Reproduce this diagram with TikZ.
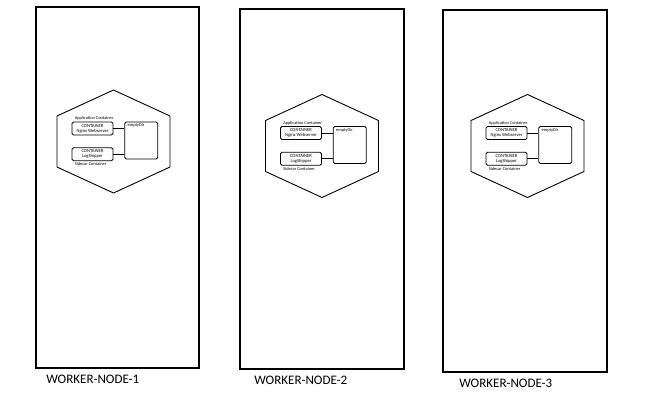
\documentclass[tikz,border=0pt]{standalone}
\usepackage{fontspec}
\setmainfont{Carlito}
\usepackage{tikz}
\usetikzlibrary{positioning}
\tikzstyle{worker} = [rectangle, draw, line width=1.8pt, inner sep=0pt]
\tikzstyle{workerlabel} = [inner sep=0pt, font=\fontsize{13}{14}\selectfont]
\tikzstyle{pod} = [draw, line width=0.9pt, line join=miter]
\tikzstyle{box} = [rectangle, draw, line width=0.8pt, rounded corners=1.5pt,
    align=center, inner sep=0pt, font=\fontsize{4.6}{5}\selectfont]
\tikzstyle{tinytext} = [inner sep=0pt, font=\fontsize{4.4}{5}\selectfont]
\tikzstyle{line} = [draw, line width=0.8pt]

\begin{document}
\begin{tikzpicture}[x=1pt, y=-1pt, node distance=10pt]
    \useasboundingbox (0,0) rectangle (659,406);
    % Place nodes
    \foreach \i/\wx/\wy/\ww/\wh/\px/\py/\lx in {1/117.5/187.5/163/361/113.5/141.5/11,
                                              2/322/189/164/360/322/146/15,
                                              3/525/191/164/362/527.5/146/17}{
        \node [worker, minimum width=\ww pt, minimum height=\wh pt] (worker\i) at (\wx,\wy) {};
        \node [workerlabel, below right=6pt and \lx pt of worker\i.south west] (wlabel\i) {WORKER-NODE-\i};

        \begin{scope}[shift={(\px,\py)}]
            \coordinate (pod\i) at (0,0);
            \draw [pod] (0,-51.5) -- (56.5,-25.5) -- (56.5,25.5) -- (0,51.5)
                -- (-56.5,25.5) -- (-56.5,-25.5) -- cycle;
            \node [box, minimum width=41pt, minimum height=13pt] (app\i) at (-21,-13) {CONTAINER\\Nginx Webserver};
            \node [box, minimum width=41pt, minimum height=13pt, below=12pt of app\i] (log\i) {CONTAINER\\LogShipper};
            \node [box, minimum width=33pt, minimum height=37pt, right=11pt of app\i.north east, anchor=north west] (vol\i) {};
        \end{scope}

        \node [tinytext, above right=1pt and 3pt of app\i.north west] (apptxt\i) {Application Container};
        \node [tinytext, below right=1.5pt and 3pt of log\i.south west] (sidetxt\i) {Sidecar Container};
        \node [tinytext, below right=2pt and 3pt of vol\i.north west] (voltxt\i) {emptyDir};

        % Draw edges
        \path [line] (app\i.east) -- (app\i.east -| vol\i.west);
        \path [line] (log\i.east) -- (log\i.east -| vol\i.west);
    }
\end{tikzpicture}
\end{document}
